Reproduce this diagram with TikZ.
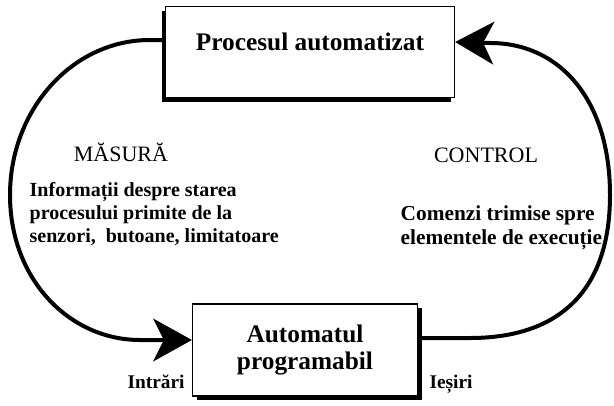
\documentclass[tikz,border=0pt]{standalone}
\usepackage{fontspec}
\setmainfont{Liberation Serif}
\usetikzlibrary{arrows.meta,positioning,shadows,calc}

\begin{document}
\begin{tikzpicture}[x=0.75pt,y=-0.75pt,
   every node/.style={font=\bfseries},
   box/.style={draw,line width=0.9pt,fill=white,align=center,
               font=\fontsize{19}{20}\selectfont\bfseries},
   flow/.style={line width=3pt,-{Stealth[length=29pt,width=32pt,inset=8pt]}},
   side/.style={font=\fontsize{16.5}{18}\selectfont},
   note/.style={align=left,font=\fontsize{15}{17}\selectfont\bfseries},
   port/.style={font=\fontsize{14.5}{17}\selectfont\bfseries}
]
\useasboundingbox (0,0) rectangle (614,405);

% ---------- the two blocks ----------
\node[box,minimum width=216.75pt,minimum height=68.25pt,
      drop shadow={shadow xshift=-3pt,shadow yshift=-3pt,fill=black,opacity=1}]
   (proc) at (310,52) {Procesul automatizat\\[-4pt]};
\node[box,minimum width=168.75pt,minimum height=69pt,
      drop shadow={shadow xshift=3pt,shadow yshift=-3pt,fill=black,opacity=1}]
   (plc) at (305,350) {Automatul\\programabil};

% ---------- measurement loop (left side) ----------
\draw[flow] ($(proc.west)+(0,-12)$) -- ++(-15,0)
   .. controls (72,40) and (10,110) .. (10,195)
   .. controls (10,280) and (70,340) .. (140,340) -- ($(plc.west)+(0,-10)$);

% ---------- control loop (right side) ----------
\draw[flow] ($(plc.east)+(0,-12)$) -- (470,338)
   .. controls (560,338) and (610,290) .. (610,195)
   .. controls (610,100) and (560,43) .. (490,43) -- ($(proc.east)+(0,-10)$);

% labels
\node[side] (meas) at (121,152) {MĂSURĂ};
\node[side] (ctrl) at (486,155) {CONTROL};
\node[note,anchor=north west] (info) at (25,178)
   {Informații despre starea\\procesului primite de la\\senzori,\ \ butoane, limitatoare};
\node[note,anchor=north west,font=\fontsize{16}{18}\selectfont\bfseries] (cmd) at (396,201)
   {Comenzi trimise spre\\elementele de execuție};
\node[port] (in) at (156,382) {Intrări};
\node[port] (out) at (451,384) {Ieșiri};

\end{tikzpicture}
\end{document}
